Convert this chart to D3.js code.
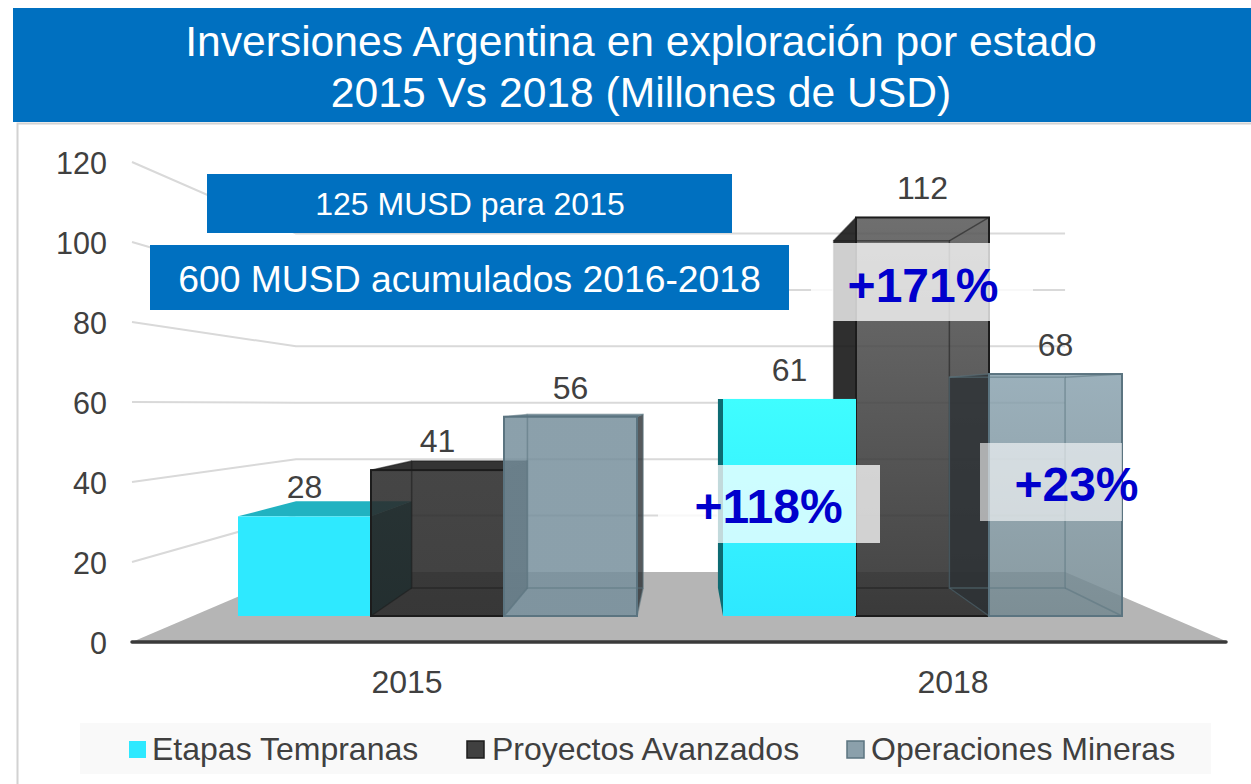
<!DOCTYPE html>
<html><head><meta charset="utf-8">
<script src="https://cdn.jsdelivr.net/npm/d3@7/dist/d3.min.js"></script>
<style>html,body{margin:0;padding:0;background:#fff;overflow:hidden}svg{display:block;font-family:"Liberation Sans",Arial,sans-serif}</style>
</head><body><svg id="c" width="1251" height="784"></svg>
<script>
const categories = ["2015", "2018"];
const seriesNames = ["Etapas Tempranas", "Proyectos Avanzados", "Operaciones Mineras"];
const etapas = [28, 61];
const proyectos = [41, 112];
const operaciones = [56, 68];
const seriesValues = [etapas, proyectos, operaciones];
const yTicks = [0, 20, 40, 60, 80, 100, 120];
const titleLines = ["Inversiones Argentina en exploración por estado", "2015 Vs 2018 (Millones de USD)"];
const changes = ["+118%", "+171%", "+23%"];
const notes = ["125 MUSD para 2015", "600 MUSD acumulados 2016-2018"];

const svg = d3.select("#c");
const ink = "#404040", blue = "#0070c0";
const defs = svg.append("defs");

// perspective scales
const labelY = d3.scaleLinear().domain([0,120]).range([642,162]);
const wallY  = d3.scaleLinear().domain([0,120]).range([572,233.5]);
const frontY = d3.scaleLinear().domain([0,120]).range([616,189]);
const backY  = d3.scaleLinear().domain([0,120]).range([588,216]);
const x0 = d3.scaleBand().domain(categories).range([238,1122]).paddingInner(86/485);
const x1 = d3.scaleBand().domain(d3.range(3)).range([0,x0.bandwidth()]);
const axisX = d3.scaleBand().domain(categories).range([134,1226]);
const vanishX = 684, depth = 0.87;
const backX = x => vanishX + depth*(x-vanishX);
const wallL = backX(238), wallR = backX(1122);

// frame and header
svg.append("path").attr("d","M17.5,784V123.5H1251").attr("fill","none").attr("stroke","#d2d2d2").attr("stroke-width",2);
svg.append("rect").attr("x",13).attr("y",8).attr("width",1238).attr("height",114).attr("fill",blue);
svg.selectAll(".t").data(titleLines).join("text").attr("x",641).attr("y",(d,i)=>56+i*51)
  .attr("text-anchor","middle").attr("fill","#fff").attr("font-size",42.6).text(d=>d);

// wall grid
yTicks.filter(d=>d>0).forEach(v=>{
  svg.append("polyline").attr("fill","none").attr("stroke","#d9d9d9").attr("stroke-width",2)
    .attr("points",[[132,labelY(v)],[wallL,wallY(v)],[wallR,wallY(v)]].join(" "));
});
// floor
svg.append("polygon").attr("fill","#b5b5b5")
  .attr("points",[[132,labelY(0)],[1228,labelY(0)],[wallR,wallY(0)],[wallL,wallY(0)]].join(" "));
// faint text-box veils on the wall
svg.append("rect").attr("x",811).attr("y",280).attr("width",222).attr("height",20).attr("fill","#fff").attr("opacity",.8);
svg.append("rect").attr("x",658).attr("y",506).attr("width",60).attr("height",20).attr("fill","#fff").attr("opacity",.8);

// y axis
const yAxis = svg.append("g").attr("transform","translate(115,1)")
  .call(d3.axisLeft(labelY).tickValues(yTicks).tickSize(0).tickPadding(8));
yAxis.select(".domain").remove();
yAxis.selectAll("text").attr("font-size",30.5).attr("fill",ink).attr("font-family","Liberation Sans").attr("dy","0.34em");

// bar gradients: [top, bottom] per series and category
const faceColors = [
  [["#2ee9ff","#2ee9ff"],["#3ffdff","#2ee8ff"]],
  [["#2c2c2c","#262626"],["#5b5b5b","#292929"]],
  [["#758e9b","#758e9b"],["#88a1ae","#72878f"]]
];
const faceAlpha = [1,.88,.84];
const sideFill = ["#0d6b73","#121212","#2c3134"];
const sideAlpha = [1,.88,.8];
const topFill = ["#21b2c1","#1e1e1e","#5f7a87"];
const edge = [null,"#1c1c1c","#5b7480"];
faceColors.forEach((s,i)=>s.forEach((c,j)=>{
  const g = defs.append("linearGradient").attr("id",`g${i}${j}`).attr("x1",0).attr("y1",0).attr("x2",0).attr("y2",1);
  g.append("stop").attr("offset",0).attr("stop-color",c[0]);
  g.append("stop").attr("offset",1).attr("stop-color",c[1]);
}));

function drawBar(cat, j, i){
  const v = seriesValues[i][j];
  const l = x0(cat)+x1(i), r = l+x1.bandwidth();
  const bl = backX(l), br = backX(r);
  const ft = frontY(v), fb = frontY(0), bt = backY(v), bb = backY(0);
  const g = svg.append("g");
  const side = (x,bx)=> g.append("polygon").attr("fill",sideFill[i]).attr("fill-opacity",sideAlpha[i])
     .attr("points",[[x,fb],[x,ft],[bx,bt],[bx,bb]].join(" "));
  if (bl<l) side(l,bl);
  if (br>r) side(r,br);
  if (bt<ft) g.append("polygon").attr("fill",topFill[i]).attr("fill-opacity",i?0.9:1)
     .attr("points",[[l,ft],[bl,bt],[br,bt],[r,ft]].join(" "));
  g.append("rect").attr("x",l).attr("y",ft).attr("width",r-l).attr("height",fb-ft)
     .attr("fill",`url(#g${i}${j})`).attr("fill-opacity",faceAlpha[i]);
  if (edge[i]) {
    g.append("rect").attr("x",bl).attr("y",bt).attr("width",br-bl).attr("height",bb-bt)
      .attr("fill","none").attr("stroke",edge[i]).attr("stroke-width",1.5).attr("stroke-opacity",.55);
    [[l,ft,bl,bt],[r,ft,br,bt],[l,fb,bl,bb],[r,fb,br,bb]].forEach(p=>{
      g.append("line").attr("x1",p[0]).attr("y1",p[1]).attr("x2",p[2]).attr("y2",p[3])
       .attr("stroke",edge[i]).attr("stroke-width",1.5).attr("stroke-opacity",.55);
    });
    g.append("rect").attr("x",l).attr("y",ft).attr("width",r-l).attr("height",fb-ft)
      .attr("fill","none").attr("stroke",edge[i]).attr("stroke-width",2);
  }
}
const drawOrder = [[0,1,2],[1,2,0]];
categories.forEach((c,j)=>drawOrder[j].forEach(i=>drawBar(c,j,i)));

// x axis
svg.append("line").attr("x1",132).attr("x2",1226).attr("y1",labelY(0)).attr("y2",labelY(0))
  .attr("stroke","#3a3a3a").attr("stroke-width",3.5).attr("stroke-linecap","round");
const xAxis = svg.append("g").attr("transform",`translate(0,${labelY(0)})`)
  .call(d3.axisBottom(axisX).tickSize(0).tickPadding(0));
xAxis.select(".domain").remove();
xAxis.selectAll("text").attr("font-size",32).attr("fill",ink).attr("font-family","Liberation Sans")
  .attr("dy",0).attr("y",51);

// value labels
categories.forEach((c,j)=>seriesValues.forEach((s,i)=>{
  svg.append("text").attr("x",x0(c)+x1(i)+x1.bandwidth()/2).attr("y",frontY(s[j])-18)
    .attr("text-anchor","middle").attr("font-size",32).attr("fill",ink).text(s[j]);
}));

// note boxes
[[207,174,525,59,32,470,215],[150,245,639,65,37.3,469.5,292]].forEach((b,i)=>{
  svg.append("rect").attr("x",b[0]).attr("y",b[1]).attr("width",b[2]).attr("height",b[3]).attr("fill",blue);
  svg.append("text").attr("x",b[5]).attr("y",b[6]).attr("text-anchor","middle").attr("fill","#fff")
    .attr("font-size",b[4]).text(notes[i]);
});

// change callouts
const callouts = [[717,465,163,78,768.5,523,.75],[832,243,158,78,923,302,.77],[980,443,142,78,1076.5,501,.6]];
callouts.forEach(b=>{
  svg.append("rect").attr("x",b[0]).attr("y",b[1]).attr("width",b[2]).attr("height",b[3]).attr("fill","#fff").attr("fill-opacity",b[6]);
});
callouts.forEach((b,i)=>{
  svg.append("text").attr("x",b[4]).attr("y",b[5]).attr("text-anchor","middle").attr("fill","#0000cc")
    .attr("font-size",48).attr("font-weight","bold").text(changes[i]);
});

// legend
svg.append("rect").attr("x",80).attr("y",723).attr("width",1131).attr("height",51).attr("fill","#f9f9f9");
const swatch = ["#2ee9ff","#404040","#8ba0ab"], swEdge = [null,"#1c1c1c","#5b7480"];
const legX = [129,467,847], legT = [152,492,871];
seriesNames.forEach((n,i)=>{
  const r = svg.append("rect").attr("x",legX[i]).attr("y",741).attr("width",17).attr("height",17).attr("fill",swatch[i]);
  if (swEdge[i]) r.attr("stroke",swEdge[i]).attr("stroke-width",1.5);
  svg.append("text").attr("x",legT[i]).attr("y",760).attr("font-size",32).attr("fill",ink).text(n);
});
</script></body></html>
